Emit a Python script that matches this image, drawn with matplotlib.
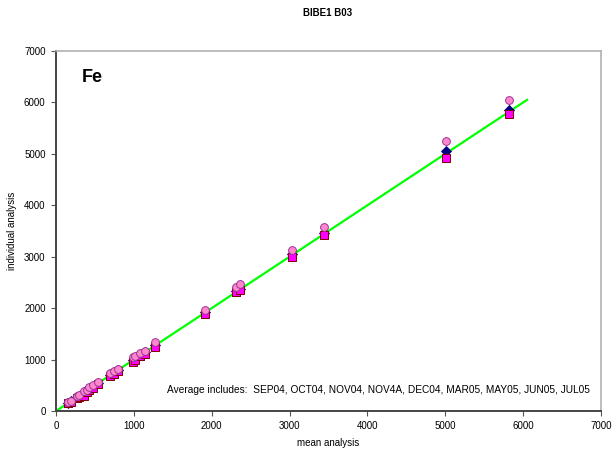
import matplotlib
matplotlib.use("Agg")
import matplotlib.pyplot as plt

plt.rcParams['font.family'] = ['Liberation Sans', 'DejaVu Sans']

title = "BIBE1 B03"
element = "Fe"
note = "Average includes:  SEP04, OCT04, NOV04, NOV4A, DEC04, MAR05, MAY05, JUN05, JUL05"

# mean of all runs for each sample
means = [158, 188, 265, 300, 364, 402, 428, 470, 543, 693, 745, 800,
         992, 1010, 1078, 1142, 1275, 1915, 2310, 2362, 3025, 3445, 5015, 5815]
# individual runs
run_circle = [181, 200, 292, 305, 389, 415, 461, 506, 558, 745, 778, 823,
              1045, 1060, 1134, 1173, 1350, 1970, 2406, 2471, 3140, 3586, 5250, 6045]
run_square = [150, 175, 255, 280, 300, 360, 400, 440, 520, 690, 720, 780,
              960, 990, 1060, 1110, 1240, 1890, 2309, 2354, 2990, 3415, 4915, 5775]
run_diamond = [160, 190, 268, 300, 365, 400, 430, 470, 540, 700, 745, 800,
               995, 1010, 1080, 1140, 1280, 1920, 2330, 2380, 3060, 3460, 5055, 5850]
run_triangle = [158, 188, 266, 300, 364, 402, 428, 470, 543, 698, 745, 800,
                992, 1010, 1078, 1142, 1275, 1915, 2320, 2370, 3040, 3450, 5010, 5870]
line_x = [0, 6050]

fig = plt.figure(figsize=(6.12, 4.55), dpi=100)
ax = fig.add_axes([56 / 612, 1 - 411 / 455, (601 - 56) / 612, (411 - 51) / 455])

# 1:1 reference line
ax.plot(line_x, line_x, color='#00FF00', lw=1.6, zorder=2)
ax.plot(means, run_triangle, ls='none', marker='^', ms=5.5, mfc='#0000FF', mec='#000080', mew=0.6, zorder=3)
ax.plot(means, run_diamond, ls='none', marker='D', ms=4.8, mfc='#000080', mec='#000080', mew=0.6, zorder=3)
ax.plot(means, run_square, ls='none', marker='s', ms=5.4, mfc='#FF00FF', mec='#800000', mew=0.7, zorder=4)
ax.plot(means, run_circle, ls='none', marker='o', ms=5.6, mfc='#FF88CC', mec='#993399', mew=0.7, zorder=5)

ax.set_xlim(0, 7000)
ax.set_ylim(0, 7000)
ax.set_xticks(range(0, 7001, 1000))
ax.set_yticks(range(0, 7001, 1000))
ax.tick_params(direction='out', length=3.5, width=0.8, labelsize=7, colors='#555555',
               labelcolor='black', pad=4)

for s in ('top', 'right'):
    ax.spines[s].set_color('#B0B0B0')
    ax.spines[s].set_linewidth(1.2)
for s in ('left', 'bottom'):
    ax.spines[s].set_color('#444444')
    ax.spines[s].set_linewidth(1.4)

ax.set_xlabel("mean analysis", fontsize=7, labelpad=5)
ax.set_ylabel("individual analysis", fontsize=7, labelpad=5)
fig.text(0.535, 1 - 13 / 455, title, ha='center', va='center', fontsize=7, fontweight='bold')

ax.text(0.048, 0.925, element, transform=ax.transAxes, fontsize=13, fontweight='bold',
        va='center', ha='left')
ax.text(0.204, 0.058, note, transform=ax.transAxes, fontsize=7.25, va='center', ha='left')

fig.savefig("out.png", dpi=100)
